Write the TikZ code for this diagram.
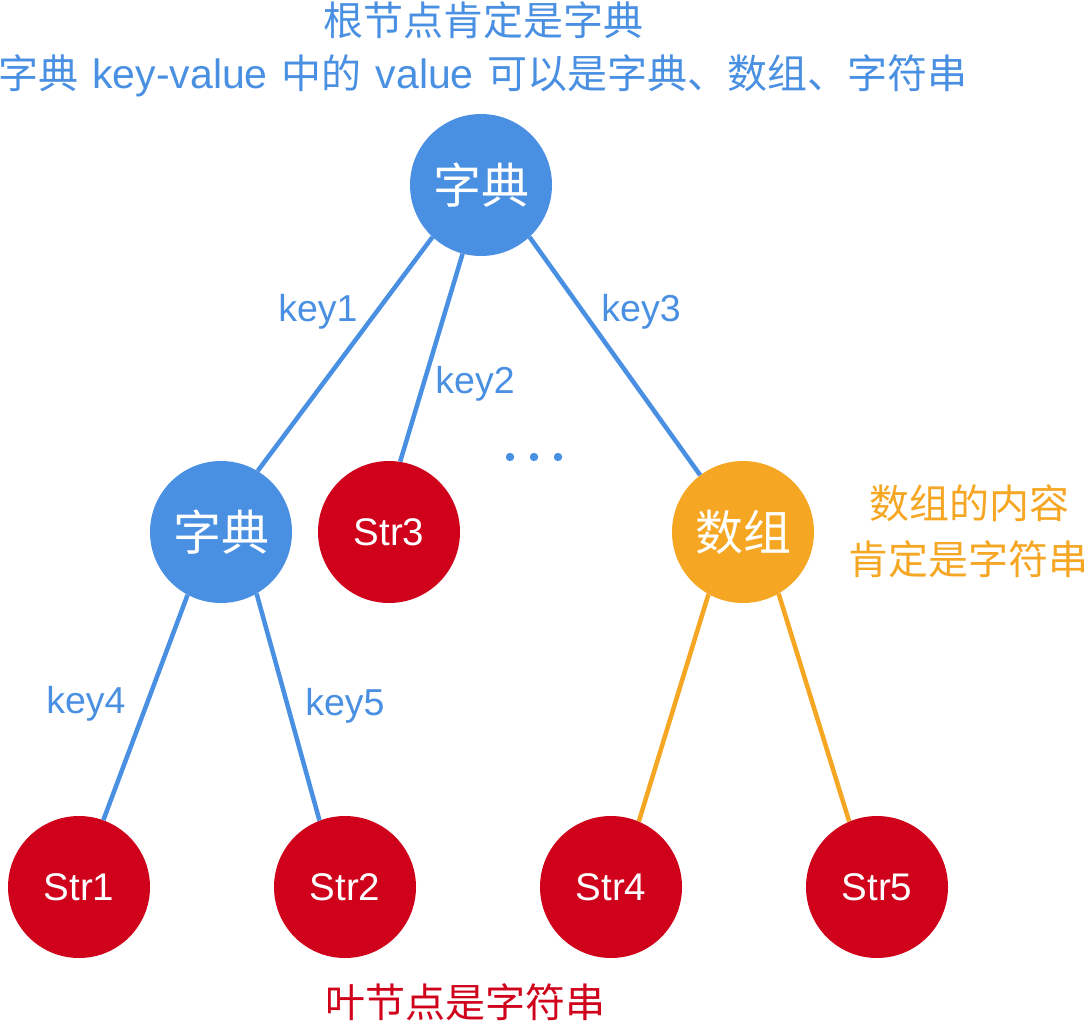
\documentclass[tikz,border=0pt]{standalone}
\usepackage{fontspec}
\setmainfont{Liberation Sans}
\newfontfamily\cjk{Noto Sans CJK SC}
\definecolor{cblue}{HTML}{4A90E2}
\definecolor{cred}{HTML}{D0021B}
\definecolor{corange}{HTML}{F5A623}
\begin{document}
\begin{tikzpicture}[x=1pt,y=-1pt,
  circ/.style={circle,inner sep=0pt,minimum size=142pt,text=white},
  dictnode/.style={circ,fill=cblue,font=\cjk\fontsize{48}{50}\selectfont},
  arrnode/.style={circ,fill=corange,font=\cjk\fontsize{48}{50}\selectfont},
  strnode/.style={circ,fill=cred,font=\fontsize{38.5}{40}\selectfont},
  bline/.style={cblue,line width=4.5pt},
  oline/.style={corange,line width=4.5pt},
  keylabel/.style={text=cblue,font=\fontsize{37.5}{40}\selectfont,inner sep=0pt},
  note/.style={inner sep=0pt,font=\cjk\fontsize{40}{42}\selectfont}]
\useasboundingbox (0,0) rectangle (1086,1024);
\node[dictnode] (root) at (481,185) {字典};
\node[dictnode] (dict) at (221,532) {字典};
\node[strnode] (s3) at (389,532) {Str3};
\node[arrnode] (arr) at (743,532) {数组};
\node[strnode] (s1) at (79,887) {Str1};
\node[strnode] (s2) at (345,887) {Str2};
\node[strnode] (s4) at (611,887) {Str4};
\node[strnode] (s5) at (877,887) {Str5};
\draw[bline] (root.227.8) -- (dict.59);
\draw[bline] (root.255) -- (s3.81);
\draw[bline] (root.313.4) -- (arr.127.5);
\draw[bline] (dict.242.4) -- (s1.70.8);
\draw[bline] (dict.300.4) -- (s2.111);
\draw[oline] (arr.241.7) -- (s4.67.9);
\draw[oline] (arr.300.8) -- (s5.113.5);
\node[keylabel] (k1) at (318,312) {key1};
\node[keylabel] (k2) at (475,384) {key2};
\node[keylabel] (k3) at (641,312) {key3};
\node[keylabel] (k4) at (86,704) {key4};
\node[keylabel] (k5) at (345,706) {key5};
\fill[cblue] (510,457) circle (4.2pt) (534,457) circle (4.2pt) (558,457) circle (4.2pt);
\node[note,text=cblue] (t1) at (483,20) {根节点肯定是字典};
\node[note,text=cblue] (t2) at (483,76) {字典\hspace{14pt}{\fontspec{Liberation Sans}\fontsize{41}{42}\selectfont key-value}\hspace{14pt}中的\hspace{14pt}{\fontspec{Liberation Sans}\fontsize{41}{42}\selectfont value}\hspace{14pt}可以是字典、数组、字符串};
\node[note,text=corange] (o1) at (969,503) {数组的内容};
\node[note,text=corange] (o2) at (968,559) {肯定是字符串};
\node[note,text=cred] (r1) at (465,1002) {叶节点是字符串};
\end{tikzpicture}
\end{document}
